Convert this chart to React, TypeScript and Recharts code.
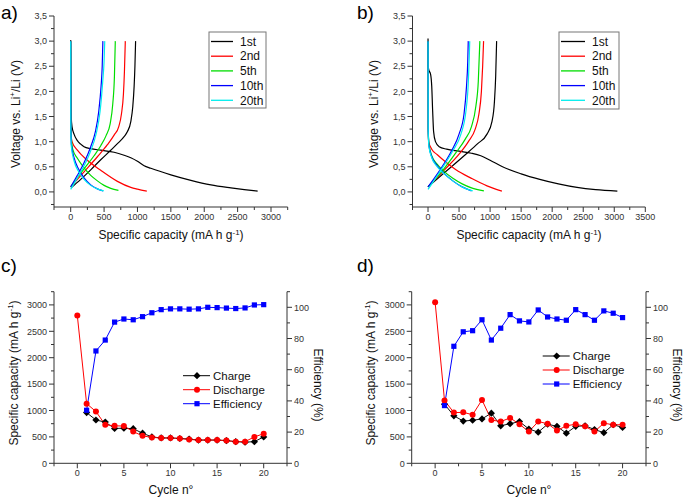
import React from 'react';
import { LineChart, Line, XAxis, YAxis } from 'recharts';

const W = 685;
const H = 499;
const FONT = '"Liberation Sans", Arial, Helvetica, sans-serif';
const AXIS = '#333';
const TXT = '#333';

type Pt = { c: number; v: number };
const pts = (rows: number[][]): Pt[] => rows.map(([c, v]) => ({ c, v }));

// ---- a) voltage profiles (capacity mA h g-1, voltage V)
const aDis1st = pts([[0, 3.02], [3, 2.0], [8, 1.5], [20, 1.3], [50, 1.15], [100, 1.02], [150, 0.95], [200, 0.9], [300, 0.86], [450, 0.83], [650, 0.79], [800, 0.73], [900, 0.68], [1000, 0.61], [1100, 0.52], [1200, 0.47], [1500, 0.34], [1800, 0.23], [2100, 0.14], [2400, 0.08], [2600, 0.045], [2800, 0.015]]);
const aCh1st = pts([[5, 0.08], [150, 0.25], [300, 0.44], [450, 0.64], [600, 0.83], [700, 0.96], [800, 1.1], [850, 1.2], [900, 1.4], [930, 1.7], [950, 2.1], [962, 2.5], [972, 3.0]]);
const aDis2nd = pts([[0, 3.0], [4, 1.5], [8, 1.1], [20, 1.0], [100, 0.83], [250, 0.63], [450, 0.43], [700, 0.21], [900, 0.09], [1000, 0.055], [1140, 0.015]]);
const aCh2nd = pts([[0, 0.1], [200, 0.4], [400, 0.7], [550, 0.94], [650, 1.13], [720, 1.3], [760, 1.55], [790, 1.95], [805, 2.4], [818, 3.0]]);
const aDis5th = pts([[0, 3.0], [3, 1.5], [8, 1.1], [30, 0.85], [100, 0.67], [200, 0.48], [300, 0.33], [400, 0.22], [500, 0.13], [600, 0.07], [715, 0.03]]);
const aCh5th = pts([[0, 0.1], [200, 0.46], [350, 0.72], [450, 0.92], [530, 1.12], [590, 1.35], [630, 1.75], [655, 2.3], [668, 3.0]]);
const aDis10th = pts([[0, 3.0], [3, 1.3], [10, 0.95], [50, 0.68], [120, 0.45], [200, 0.28], [300, 0.14], [400, 0.06], [485, 0.02]]);
const aCh10th = pts([[0, 0.1], [100, 0.33], [200, 0.58], [300, 0.9], [370, 1.2], [420, 1.6], [455, 2.1], [472, 2.5], [482, 3.0]]);
const aDis20th = pts([[0, 3.0], [2, 1.25], [10, 0.9], [50, 0.62], [120, 0.4], [200, 0.25], [300, 0.13], [400, 0.06], [495, 0.02]]);
const aCh20th = pts([[0, 0.05], [100, 0.28], [200, 0.52], [300, 0.82], [380, 1.15], [440, 1.6], [480, 2.2], [500, 2.6], [510, 3.0]]);

// ---- b) voltage profiles
const bDis1st = pts([[0, 3.05], [3, 2.5], [15, 2.42], [40, 2.35], [60, 2.1], [75, 1.6], [90, 1.2], [120, 1.0], [180, 0.9], [300, 0.85], [500, 0.81], [700, 0.77], [850, 0.72], [1000, 0.63], [1200, 0.5], [1500, 0.36], [1800, 0.25], [2100, 0.16], [2400, 0.09], [2700, 0.045], [3050, 0.015]]);
const bCh1st = pts([[0, 0.1], [300, 0.42], [600, 0.74], [800, 0.96], [950, 1.15], [1030, 1.4], [1070, 1.8], [1090, 2.3], [1105, 3.0]]);
const bDis2nd = pts([[0, 3.0], [3, 1.3], [10, 1.0], [60, 0.85], [150, 0.74], [300, 0.58], [450, 0.44], [700, 0.27], [950, 0.12], [1100, 0.05], [1190, 0.015]]);
const bCh2nd = pts([[0, 0.1], [250, 0.42], [500, 0.75], [650, 1.0], [760, 1.25], [820, 1.55], [860, 2.0], [880, 2.5], [895, 3.0]]);
const bDis5th = pts([[0, 3.0], [3, 1.25], [15, 0.95], [60, 0.72], [150, 0.55], [250, 0.42], [400, 0.27], [550, 0.16], [700, 0.08], [900, 0.02]]);
const bCh5th = pts([[0, 0.1], [250, 0.45], [450, 0.78], [600, 1.05], [700, 1.3], [770, 1.7], [810, 2.2], [835, 3.0]]);
const bDis10th = pts([[0, 3.0], [3, 1.25], [15, 0.92], [60, 0.7], [150, 0.52], [250, 0.38], [400, 0.22], [550, 0.1], [700, 0.02]]);
const bCh10th = pts([[0, 0.1], [200, 0.45], [380, 0.82], [500, 1.15], [580, 1.55], [620, 2.1], [640, 2.6], [648, 3.0]]);
const bDis20th = pts([[0, 3.0], [3, 1.2], [15, 0.9], [60, 0.68], [150, 0.5], [260, 0.36], [420, 0.2], [580, 0.08], [720, 0.02]]);
const bCh20th = pts([[0, 0.05], [200, 0.42], [400, 0.82], [530, 1.15], [610, 1.6], [650, 2.2], [665, 2.7], [672, 3.0]]);

const cycleLabels = ['1st', '2nd', '5th', '10th', '20th'];
const cycleColors = ['#000000', '#ff0000', '#00dd00', '#0000ff', '#00eeee'];

const aCurves = [[aDis1st, aCh1st], [aDis2nd, aCh2nd], [aDis5th, aCh5th], [aDis10th, aCh10th], [aDis20th, aCh20th]];
const bCurves = [[bDis1st, bCh1st], [bDis2nd, bCh2nd], [bDis5th, bCh5th], [bDis10th, bCh10th], [bDis20th, bCh20th]];

// ---- c) / d) cycling
const cycleNo = [0, 1, 2, 3, 4, 5, 6, 7, 8, 9, 10, 11, 12, 13, 14, 15, 16, 17, 18, 19, 20];
const cCharge = [null, 960, 820, 780, 660, 665, 655, 570, 500, 480, 480, 470, 460, 440, 440, 440, 430, 410, 400, 410, 500];
const cDischarge = [2800, 1130, 980, 730, 710, 705, 600, 520, 490, 480, 480, 470, 450, 440, 440, 440, 430, 410, 410, 500, 560];
const cEfficiency = [null, 34, 72, 79, 90.5, 92.5, 92, 94, 96.5, 98.5, 99, 99, 98.8, 99, 100, 99.8, 99.5, 99.2, 99.6, 101.5, 101.7];
const dCharge = [null, 1120, 900, 800, 815, 840, 950, 710, 750, 790, 650, 590, 740, 700, 570, 700, 710, 640, 580, 730, 680];
const dDischarge = [3050, 1190, 960, 965, 920, 1200, 820, 790, 860, 740, 600, 790, 750, 620, 710, 740, 700, 600, 760, 730, 730];
const dEfficiency = [null, 37, 75, 84.3, 85, 92, 79, 86.6, 95.3, 91.3, 90.6, 98.3, 93.8, 92.5, 91.7, 98.5, 95.3, 91.7, 97.7, 96.2, 93.4];

// ---- ticks
const vMajor = [0, 0.5, 1, 1.5, 2, 2.5, 3, 3.5];
const vTicks = [-0.25, 0, 0.25, 0.5, 0.75, 1, 1.25, 1.5, 1.75, 2, 2.25, 2.5, 2.75, 3, 3.25, 3.5];
const aXMajor = [0, 500, 1000, 1500, 2000, 2500, 3000];
const aXTicks = [-250, 0, 250, 500, 750, 1000, 1250, 1500, 1750, 2000, 2250, 2500, 2750, 3000, 3250];
const bXMajor = [0, 500, 1000, 1500, 2000, 2500, 3000, 3500];
const bXTicks = [-250, 0, 250, 500, 750, 1000, 1250, 1500, 1750, 2000, 2250, 2500, 2750, 3000, 3250, 3500];
const nMajor = [0, 5, 10, 15, 20];
const nTicks = [-2.5, 0, 2.5, 5, 7.5, 10, 12.5, 15, 17.5, 20, 22.5];
const capMajor = [0, 500, 1000, 1500, 2000, 2500, 3000];
const capTicks = [0, 250, 500, 750, 1000, 1250, 1500, 1750, 2000, 2250, 2500, 2750, 3000, 3250];
const effMajor = [0, 20, 40, 60, 80, 100];
const effTicks = [0, 10, 20, 30, 40, 50, 60, 70, 80, 90, 100, 110];

type Frame = { left: number; right: number; top: number; bottom: number };
const FA: Frame = { left: 54, right: 287.7, top: 16, bottom: 207 };
const FB: Frame = { left: 412.5, right: 645.3, top: 16, bottom: 207 };
const FC: Frame = { left: 54, right: 287, top: 291.7, bottom: 463.3 };
const FD: Frame = { left: 411.7, right: 646, top: 291.7, bottom: 463.3 };

const YW = 40;
const RW = 30;
const XH = 30;
const TICK_FS = 9;

const fmtV = (v: number) => v.toFixed(1).replace('.', ',');
const fmtN = (v: number) => String(v);

function tickRenderer(side: 'left' | 'right' | 'bottom', axisPos: number, majors: number[], fmt: (v: number) => string) {
  return (props: any) => {
    const v = Number(props.payload?.value);
    const major = majors.some((m) => Math.abs(m - v) < 1e-6);
    const len = major ? 5 : 3;
    if (side === 'bottom') {
      const x = props.x;
      return (
        <g>
          <line x1={x} x2={x} y1={axisPos} y2={axisPos + len} stroke={AXIS} strokeWidth={1} />
          {major && (
            <text x={x} y={axisPos + 13} textAnchor="middle" fontSize={TICK_FS} fontFamily={FONT} fill={TXT}>
              {fmt(v)}
            </text>
          )}
        </g>
      );
    }
    const y = props.y;
    const dir = side === 'left' ? -1 : 1;
    return (
      <g>
        <line x1={axisPos} x2={axisPos + dir * len} y1={y} y2={y} stroke={AXIS} strokeWidth={1} />
        {major && (
          <text x={axisPos + dir * 7} y={y + 3.2} textAnchor={side === 'left' ? 'end' : 'start'} fontSize={TICK_FS} fontFamily={FONT} fill={TXT}>
            {fmt(v)}
          </text>
        )}
      </g>
    );
  };
}

const layer: React.CSSProperties = { position: 'absolute', left: 0, top: 0 };

function ProfilePanel({ frame, xDomain, xTicks, xMajor, curves }: { frame: Frame; xDomain: number[]; xTicks: number[]; xMajor: number[]; curves: Pt[][][] }) {
  const margin = { top: frame.top, left: frame.left - YW, right: W - frame.right, bottom: H - frame.bottom - XH };
  return (
    <div style={layer}>
      <LineChart width={W} height={H} margin={margin}>
        <XAxis type="number" dataKey="c" domain={xDomain} ticks={xTicks} interval={0} allowDataOverflow height={XH}
          axisLine={{ stroke: AXIS }} tickLine={false} tick={tickRenderer('bottom', frame.bottom, xMajor, fmtN)} />
        <YAxis type="number" dataKey="v" domain={[-0.3, 3.5]} ticks={vTicks} interval={0} allowDataOverflow width={YW}
          axisLine={{ stroke: AXIS }} tickLine={false} tick={tickRenderer('left', frame.left, vMajor, fmtV)} />
        {curves.flatMap((pair, i) =>
          pair.map((d, j) => (
            <Line key={`${i}-${j}`} data={d} dataKey="v" type="monotone" stroke={cycleColors[i]} strokeWidth={1.2}
              dot={false} activeDot={false} isAnimationActive={false} />
          ))
        )}
      </LineChart>
    </div>
  );
}

const shapeDot = (kind: 'diamond' | 'circle' | 'square', fill: string) => (p: any) => {
  const { cx, cy, key } = p;
  if (!Number.isFinite(cx) || !Number.isFinite(cy)) return <g key={key} />;
  if (kind === 'diamond') {
    const r = 3.6;
    return <polygon key={key} points={`${cx},${cy - r} ${cx + r},${cy} ${cx},${cy + r} ${cx - r},${cy}`} fill={fill} />;
  }
  if (kind === 'circle') return <circle key={key} cx={cx} cy={cy} r={3} fill={fill} />;
  return <rect key={key} x={cx - 2.6} y={cy - 2.6} width={5.2} height={5.2} fill={fill} />;
};

function CyclePanel({ frame, charge, discharge, eff }: { frame: Frame; charge: (number | null)[]; discharge: (number | null)[]; eff: (number | null)[] }) {
  const rows = cycleNo.map((n, i) => ({ n, ch: charge[i], dis: discharge[i], eff: eff[i] }));
  const margin = { top: frame.top, left: frame.left - YW, right: W - frame.right - RW, bottom: H - frame.bottom - XH };
  return (
    <div style={layer}>
      <LineChart width={W} height={H} margin={margin} data={rows}>
        <XAxis type="number" dataKey="n" domain={[-2.5, 22.5]} ticks={nTicks} interval={0} allowDataOverflow height={XH}
          axisLine={{ stroke: AXIS }} tickLine={false} tick={tickRenderer('bottom', frame.bottom, nMajor, fmtN)} />
        <YAxis yAxisId="L" type="number" domain={[0, 3250]} ticks={capTicks} interval={0} allowDataOverflow width={YW}
          axisLine={{ stroke: AXIS }} tickLine={false} tick={tickRenderer('left', frame.left, capMajor, fmtN)} />
        <YAxis yAxisId="R" orientation="right" type="number" domain={[0, 110]} ticks={effTicks} interval={0} allowDataOverflow width={RW}
          axisLine={{ stroke: AXIS }} tickLine={false} tick={tickRenderer('right', frame.right, effMajor, fmtN)} />
        <Line yAxisId="L" dataKey="ch" type="linear" stroke="#111" strokeWidth={1} dot={shapeDot('diamond', '#000')} activeDot={false} isAnimationActive={false} />
        <Line yAxisId="L" dataKey="dis" type="linear" stroke="#ff0000" strokeWidth={1} dot={shapeDot('circle', '#ff0000')} activeDot={false} isAnimationActive={false} />
        <Line yAxisId="R" dataKey="eff" type="linear" stroke="#0000ff" strokeWidth={1} dot={shapeDot('square', '#0000ff')} activeDot={false} isAnimationActive={false} />
      </LineChart>
    </div>
  );
}

function ProfileLegend({ x, y, w, h, lineEnd }: { x: number; y: number; w: number; h: number; lineEnd: number }) {
  return (
    <g>
      <rect x={x} y={y} width={w} height={h} fill="#fff" stroke="#777" strokeWidth={1} />
      {cycleLabels.map((lab, i) => {
        const ry = y + 9.5 + i * 14.7;
        return (
          <g key={lab}>
            <line x1={x + 2} x2={x + lineEnd} y1={ry} y2={ry} stroke={cycleColors[i]} strokeWidth={1.3} />
            <text x={x + lineEnd + 7} y={ry + 4.2} fontSize={12} fontFamily={FONT} fill="#111">{lab}</text>
          </g>
        );
      })}
    </g>
  );
}

const seriesNames = ['Charge', 'Discharge', 'Efficiency'];
const seriesColors = ['#000000', '#ff0000', '#0000ff'];
const seriesShapes = ['diamond', 'circle', 'square'] as const;

function CycleLegend({ x, y }: { x: number; y: number }) {
  return (
    <g>
      {seriesNames.map((name, i) => {
        const ry = y + i * 14;
        const mx = x + 14;
        return (
          <g key={name}>
            <line x1={x} x2={x + 27} y1={ry} y2={ry} stroke={seriesColors[i]} strokeWidth={1} />
            {shapeDot(seriesShapes[i], seriesColors[i])({ cx: mx, cy: ry, key: name })}
            <text x={x + 30} y={ry + 4} fontSize={11.5} fontFamily={FONT} fill="#111">{name}</text>
          </g>
        );
      })}
    </g>
  );
}

const TITLE_FS = 12;

function CapTitle() {
  return (
    <>
      <tspan>Specific capacity (mA h g</tspan>
      <tspan dy={-4.5} fontSize={8}>-1</tspan>
      <tspan dy={4.5}>)</tspan>
    </>
  );
}

function VoltTitle() {
  return (
    <>
      <tspan>Voltage vs. Li</tspan>
      <tspan dy={-4.5} fontSize={8}>+</tspan>
      <tspan dy={4.5}>/Li (V)</tspan>
    </>
  );
}

function Annotations() {
  const t = { fontFamily: FONT, fontSize: TITLE_FS, fill: '#111', textAnchor: 'middle' as const };
  const p = { fontFamily: FONT, fontSize: 19, fill: '#000' };
  return (
    <svg width={W} height={H} style={{ ...layer, pointerEvents: 'none' }}>
      <text x={1} y={19} {...p}>a)</text>
      <text x={357} y={19} {...p}>b)</text>
      <text x={1} y={272} {...p}>c)</text>
      <text x={357} y={272} {...p}>d)</text>

      <text {...t} transform="translate(19.5,114) rotate(-90)"><VoltTitle /></text>
      <text {...t} transform="translate(377.5,114) rotate(-90)"><VoltTitle /></text>
      <text {...t} x={171} y={239}><CapTitle /></text>
      <text {...t} x={529} y={239}><CapTitle /></text>

      <text {...t} transform="translate(17.5,373) rotate(-90)"><CapTitle /></text>
      <text {...t} transform="translate(374.5,373) rotate(-90)"><CapTitle /></text>
      <text {...t} transform="translate(314,385) rotate(90)">Efficiency (%)</text>
      <text {...t} transform="translate(672.5,385) rotate(90)">Efficiency (%)</text>
      <text {...t} x={171} y={494}>Cycle n°</text>
      <text {...t} x={529} y={494}>Cycle n°</text>

      <ProfileLegend x={209} y={32} w={57} h={76} lineEnd={24} />
      <ProfileLegend x={559} y={32} w={60} h={77} lineEnd={26} />
      <CycleLegend x={183} y={375.7} />
      <CycleLegend x={542.7} y={356} />
    </svg>
  );
}

export default function App() {
  return (
    <div style={{ position: 'absolute', left: 0, top: 0, width: W, height: H, background: '#fff', overflow: 'hidden' }}>
      <ProfilePanel frame={FA} xDomain={[-250, 3250]} xTicks={aXTicks} xMajor={aXMajor} curves={aCurves} />
      <ProfilePanel frame={FB} xDomain={[-250, 3500]} xTicks={bXTicks} xMajor={bXMajor} curves={bCurves} />
      <CyclePanel frame={FC} charge={cCharge} discharge={cDischarge} eff={cEfficiency} />
      <CyclePanel frame={FD} charge={dCharge} discharge={dDischarge} eff={dEfficiency} />
      <Annotations />
    </div>
  );
}
